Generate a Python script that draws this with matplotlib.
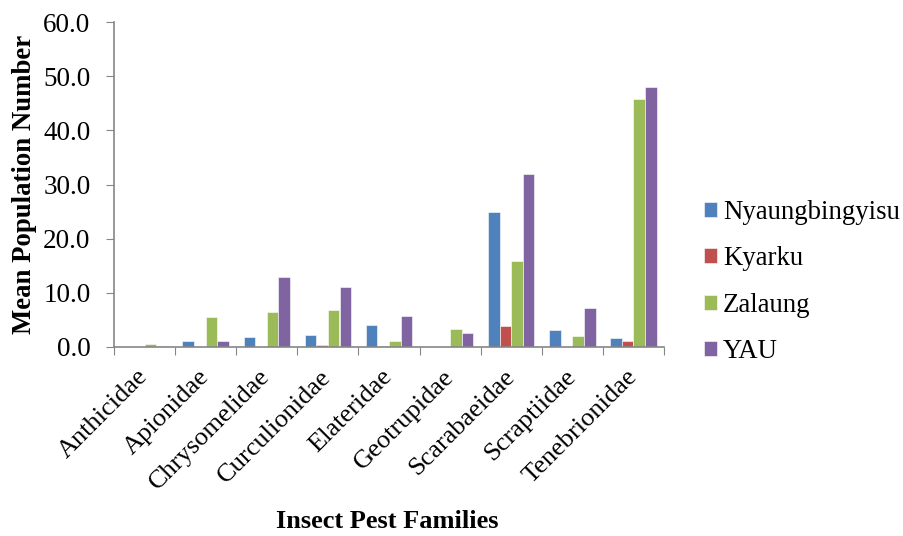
import matplotlib
matplotlib.use("Agg")
import matplotlib.pyplot as plt
import numpy as np

categories = ["Anthicidae", "Apionidae", "Chrysomelidae", "Curculionidae", "Elateridae",
              "Geotrupidae", "Scarabaeidae", "Scraptiidae", "Tenebrionidae"]
nyaung = [0.0, 1.1, 1.8, 2.2, 4.1, 0.0, 24.9, 3.1, 1.7]
kyarku = [0.0, 0.0, 0.0, 0.3, 0.1, 0.0, 3.8, 0.0, 1.2]
zalaung = [0.5, 5.5, 6.5, 6.8, 1.1, 3.3, 15.8, 2.0, 45.8]
yau = [0.2, 1.2, 12.9, 11.0, 5.8, 2.5, 32.0, 7.2, 48.0]
series = [("Nyaungbingyisu", nyaung, "#4F81BD"), ("Kyarku", kyarku, "#C0504D"),
          ("Zalaung", zalaung, "#9BBB59"), ("YAU", yau, "#8064A2")]
yticks = [0, 10, 20, 30, 40, 50, 60]

plt.rcParams['font.family'] = ['Liberation Serif', 'DejaVu Serif']
fig = plt.figure(figsize=(9.04, 5.36), dpi=100)
ax = fig.add_axes([114/904, 1-347/536, (664-114)/904, (347-22)/536])

x = np.arange(len(categories))
w = 0.19
for i, (name, vals, col) in enumerate(series):
    ax.bar(x + (i - 1.5) * w, vals, w, color=col, label=name, edgecolor='white', linewidth=0.4)

ax.set_xlim(-0.5, len(categories) - 0.5)
ax.set_ylim(0, 60)
ax.set_yticks(yticks)
ax.set_yticklabels([f"{v:.1f}" for v in yticks], fontsize=19.5)
ax.set_xticks(np.arange(-0.5, len(categories), 1.0), minor=False)
ax.set_xticklabels([])
ax.set_xticks(x, minor=True)
ax.set_xticklabels(categories, minor=True, rotation=45, ha='right', va='center',
                   rotation_mode='anchor', fontsize=19)
ax.tick_params(axis='x', which='minor', length=0, pad=19)
ax.tick_params(axis='x', which='major', length=6, color='#868686', direction='out')
ax.tick_params(axis='y', length=6, color='#868686', direction='out', pad=11)
for s in ['top', 'right']:
    ax.spines[s].set_visible(False)
for s in ['left', 'bottom']:
    ax.spines[s].set_color('#868686')
    ax.spines[s].set_linewidth(1.2)

ax.set_ylabel("Mean Population Number", fontsize=19.3, fontweight='bold')
ax.yaxis.set_label_coords((37-114)/550, 0.5)
fig.text(387/904, 1-522/536, "Insect Pest Families", fontsize=19, fontweight='bold', ha='center', va='center')

leg = ax.legend(loc='center left', bbox_to_anchor=(704/904, 1-282/536), bbox_transform=fig.transFigure,
                frameon=False, fontsize=19.3, handlelength=0.5, handleheight=0.5, labelspacing=0.8,
                handletextpad=0.2, borderaxespad=0, borderpad=0)

fig.savefig("out.png", dpi=100)
